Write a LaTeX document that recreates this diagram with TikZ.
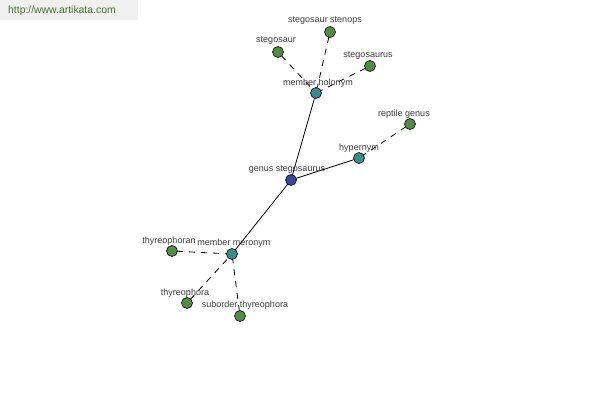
\documentclass[tikz,border=0pt]{standalone}
\usepackage{fontspec}
\setmainfont{Liberation Sans}
\definecolor{leaf}{RGB}{82,140,70}
\definecolor{rel}{RGB}{60,140,140}
\definecolor{hub}{RGB}{60,70,150}
\definecolor{txt}{RGB}{60,60,60}
\definecolor{wm}{RGB}{240,240,240}
\definecolor{wmtxt}{RGB}{70,110,50}
\begin{document}
\begin{tikzpicture}[x=1pt,y=-1pt,
  dot/.style={circle,draw=black,line width=0.6pt,minimum size=11pt,inner sep=0pt},
  leafdot/.style={dot,fill=leaf},
  reldot/.style={dot,fill=rel},
  hubdot/.style={dot,fill=hub},
  lbl/.style={font=\fontsize{9}{10}\selectfont,text=txt,inner sep=0pt},
  solidedge/.style={draw=black,line width=0.8pt},
  dashedge/.style={draw=black,line width=0.8pt,dashed,dash pattern=on 6pt off 6pt,shorten <=5pt,shorten >=4pt}]
\useasboundingbox (0,0) rectangle (600,400);
\fill[white] (0,0) rectangle (600,400);
\node[fill=wm,minimum width=138pt,minimum height=20pt,anchor=north west,inner sep=0pt] (wmbox) at (0,0) {};
\node[font=\fontsize{10.4}{12}\selectfont,text=wmtxt,anchor=west,inner sep=0pt] (wmtext) at (8,11) {http://www.artikata.com};
% edges
\coordinate (gs) at (291,180);
\coordinate (mh) at (316,93);
\coordinate (hy) at (359,158);
\coordinate (mm) at (232,254);
\draw[solidedge] (gs) -- (mh);
\draw[solidedge] (gs) -- (hy);
\draw[solidedge] (gs) -- (mm);
\coordinate (s1) at (278,52);
\coordinate (s2) at (330,32);
\coordinate (s3) at (370,66);
\coordinate (rg) at (410,124);
\coordinate (t1) at (172,251);
\coordinate (t2) at (187,303);
\coordinate (t3) at (240,316);
\draw[dashedge] (s1) -- (mh);
\draw[dashedge] (s2) -- (mh);
\draw[dashedge] (s3) -- (mh);
\draw[dashedge] (rg) -- (hy);
\draw[dashedge] (t1) -- (mm);
\draw[dashedge] (t2) -- (mm);
\draw[dashedge] (t3) -- (mm);
% nodes
\node[hubdot] (ngs) at (gs) {};
\node[reldot] (nmh) at (mh) {};
\node[reldot] (nhy) at (hy) {};
\node[reldot] (nmm) at (mm) {};
\node[leafdot] (ns1) at (s1) {};
\node[leafdot] (ns2) at (s2) {};
\node[leafdot] (ns3) at (s3) {};
\node[leafdot] (nrg) at (rg) {};
\node[leafdot] (nt1) at (t1) {};
\node[leafdot] (nt2) at (t2) {};
\node[leafdot] (nt3) at (t3) {};
% labels
\node[lbl] (lgs) at (287,170) {genus stegosaurus};
\node[lbl] (lmh) at (318,83) {member holonym};
\node[lbl] (lhy) at (359,148) {hypernym};
\node[lbl] (lmm) at (234,243) {member meronym};
\node[lbl] (ls1) at (276,41) {stegosaur};
\node[lbl] (ls2) at (325,21) {stegosaur stenops};
\node[lbl] (ls3) at (368,56) {stegosaurus};
\node[lbl] (lrg) at (404,114) {reptile genus};
\node[lbl] (lt1) at (169,241) {thyreophoran};
\node[lbl] (lt2) at (185,293) {thyreophora};
\node[lbl] (lt3) at (245,305) {suborder thyreophora};
\end{tikzpicture}
\end{document}
